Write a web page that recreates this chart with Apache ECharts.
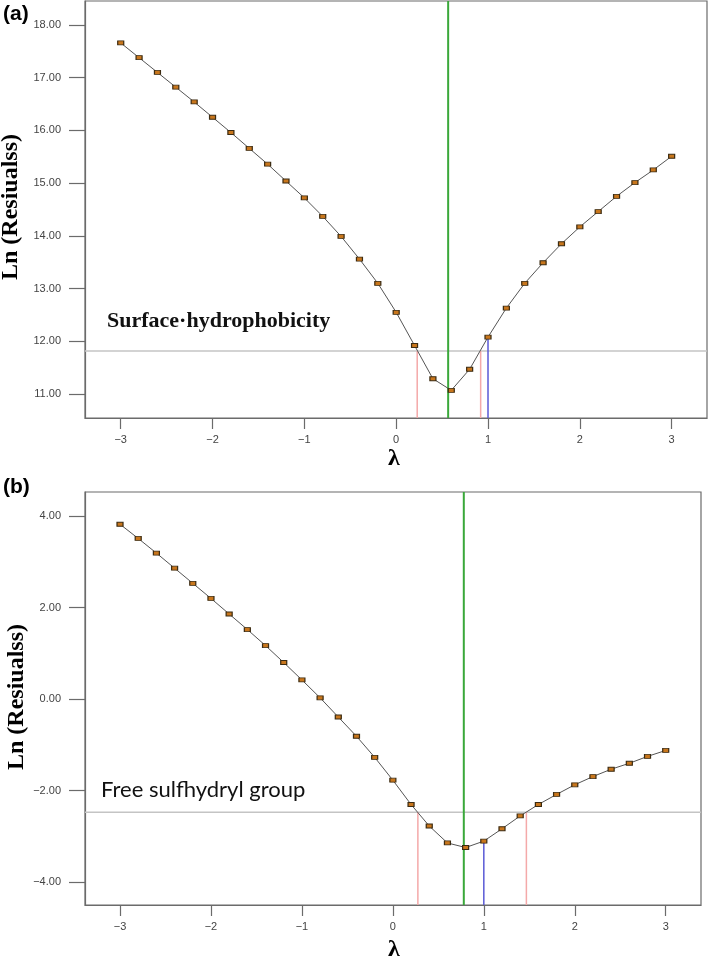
<!DOCTYPE html>
<html><head><meta charset="utf-8">
<script src="https://cdn.jsdelivr.net/npm/echarts@6/dist/echarts.min.js"></script>
<style>html,body{margin:0;padding:0;background:#fff}#c{width:709px;height:962px}</style>
</head><body><div id="c"></div>
<script>
// ---- data ----
const lambdas = [-3,-2.8,-2.6,-2.4,-2.2,-2,-1.8,-1.6,-1.4,-1.2,-1,-0.8,-0.6,-0.4,-0.2,0,0.2,0.4,0.6,0.8,1,1.2,1.4,1.6,1.8,2,2.2,2.4,2.6,2.8,3];
const lnResA = [17.66,17.38,17.10,16.82,16.54,16.25,15.96,15.66,15.36,15.04,14.72,14.37,13.99,13.56,13.10,12.55,11.92,11.29,11.07,11.47,12.08,12.63,13.10,13.49,13.85,14.17,14.46,14.75,15.01,15.25,15.51];
const lnResB = [3.82,3.51,3.19,2.86,2.53,2.20,1.86,1.52,1.17,0.80,0.42,0.03,-0.39,-0.81,-1.27,-1.77,-2.30,-2.77,-3.14,-3.24,-3.10,-2.83,-2.55,-2.30,-2.08,-1.87,-1.69,-1.53,-1.40,-1.25,-1.12];
const xTicks = [-3,-2,-1,0,1,2,3];
const yTicksA = [11,12,13,14,15,16,17,18];
const yTicksB = [-4,-2,0,2,4];
const optimumA = 0.566, ciA = [0.229, 0.92], refA = 1, thresholdA = 11.816;
const optimumB = 0.78, ciB = [0.275, 1.468], refB = 1, thresholdB = -2.47;
const labelA = 'Surface·hydrophobicity';
const labelB = 'Free sulfhydryl group';
const yTitle = 'Ln (Resiualss)';
const xTitle = 'λ';

// ---- axis ranges ----
const xMinA = -3.389, xMaxA = 3.385, yMinA = 10.545, yMaxA = 18.455;
const xMinB = -3.385, xMaxB = 3.388, yMinB = -4.495, yMaxB = 4.524;

const minus = s => s.replace('-', '\u2212');
const fmtX = v => minus(String(Math.round(v)));
const fmtY = v => minus(v.toFixed(2));
const axisColor = '#6b6b6b';
const labelStyle = {fontSize: 11, color: '#444', fontFamily: 'Liberation Sans'};

function xAxis(idx, min, max) {
  return {
    gridIndex: idx, type: 'value', min, max,
    axisLine: {show: true, onZero: false, lineStyle: {color: axisColor, width: 1.2}},
    axisTick: {show: true, customValues: xTicks, length: 11, lineStyle: {color: axisColor, width: 1.2}},
    axisLabel: Object.assign({customValues: xTicks, formatter: fmtX, margin: 16}, labelStyle),
    splitLine: {show: false}
  };
}
function yAxis(idx, min, max, ticks) {
  return {
    gridIndex: idx, type: 'value', min, max,
    axisLine: {show: true, onZero: false, lineStyle: {color: axisColor, width: 1.2}},
    axisTick: {show: true, customValues: ticks, length: 16, lineStyle: {color: axisColor, width: 1.2}},
    axisLabel: Object.assign({customValues: ticks, formatter: fmtY, margin: 24}, labelStyle),
    splitLine: {show: false}
  };
}
function seg(idx, pts, color, width, z) {
  return {type: 'line', xAxisIndex: idx, yAxisIndex: idx, data: pts, symbol: 'none', silent: true,
    lineStyle: {color, width}, z, animation: false};
}
function curve(idx, vals) {
  return {type: 'line', xAxisIndex: idx, yAxisIndex: idx,
    data: lambdas.map((l, i) => [l, vals[i]]),
    symbol: 'rect', symbolSize: [6, 4], showSymbol: true,
    lineStyle: {color: '#555', width: 1},
    itemStyle: {color: '#c8761c', borderColor: '#3b2b12', borderWidth: 1},
    z: 10, animation: false};
}
function panelSeries(idx, vals, opt, ci, ref, thr, xMin, xMax, yMin, yMax) {
  const refVal = vals[lambdas.indexOf(ref)];
  return [
    seg(idx, [[xMin, thr], [xMax, thr]], '#c4c4c4', 1.5, 2),
    seg(idx, [[ci[0], yMin], [ci[0], thr]], '#f4a9a9', 1.5, 3),
    seg(idx, [[ci[1], yMin], [ci[1], thr]], '#f4a9a9', 1.5, 3),
    seg(idx, [[ref, yMin], [ref, refVal]], '#5a5ad6', 1.5, 3),
    seg(idx, [[opt, yMin], [opt, yMax]], '#3aa83a', 2, 4),
    curve(idx, vals)
  ];
}

const chart = echarts.init(document.getElementById('c'), null, {renderer: 'canvas'});
chart.setOption({
  animation: false,
  backgroundColor: '#fff',
  grid: [
    {left: 85, top: 1, width: 622, height: 417, show: true, borderColor: axisColor, borderWidth: 1.2, backgroundColor: 'transparent'},
    {left: 85, top: 492, width: 616, height: 413, show: true, borderColor: axisColor, borderWidth: 1.2, backgroundColor: 'transparent'}
  ],
  xAxis: [xAxis(0, xMinA, xMaxA), xAxis(1, xMinB, xMaxB)],
  yAxis: [yAxis(0, yMinA, yMaxA, yTicksA), yAxis(1, yMinB, yMaxB, yTicksB)],
  series: [].concat(
    panelSeries(0, lnResA, optimumA, ciA, refA, thresholdA, xMinA, xMaxA, yMinA, yMaxA),
    panelSeries(1, lnResB, optimumB, ciB, refB, thresholdB, xMinB, xMaxB, yMinB, yMaxB)
  ),
  graphic: [
    {type: 'text', left: 3, top: 4, style: {text: '(a)', font: 'bold 21px "Liberation Sans"', fill: '#000'}},
    {type: 'text', left: 3, top: 477, style: {text: '(b)', font: 'bold 21px "Liberation Sans"', fill: '#000'}},
    {type: 'text', x: 11, y: 207, rotation: Math.PI / 2,
      style: {text: yTitle, font: 'bold 24px "Liberation Serif"', fill: '#000', align: 'center', verticalAlign: 'middle'}},
    {type: 'text', x: 17, y: 697, rotation: Math.PI / 2,
      style: {text: yTitle, font: 'bold 24px "Liberation Serif"', fill: '#000', align: 'center', verticalAlign: 'middle'}},
    {type: 'text', x: 394, y: 459,
      style: {text: xTitle, font: 'bold 24px "Liberation Serif"', fill: '#000', align: 'center', verticalAlign: 'middle'}},
    {type: 'text', x: 394, y: 950,
      style: {text: xTitle, font: 'bold 24px "Liberation Serif"', fill: '#000', align: 'center', verticalAlign: 'middle'}},
    {type: 'text', x: 107, y: 321,
      style: {text: labelA, font: 'bold 22px "Liberation Serif"', fill: '#111', align: 'left', verticalAlign: 'middle'}},
    {type: 'text', x: 101, y: 790,
      style: {text: labelB, font: '22px "Lato"', fill: '#111', align: 'left', verticalAlign: 'middle'}}
  ]
});
</script>
</body></html>
